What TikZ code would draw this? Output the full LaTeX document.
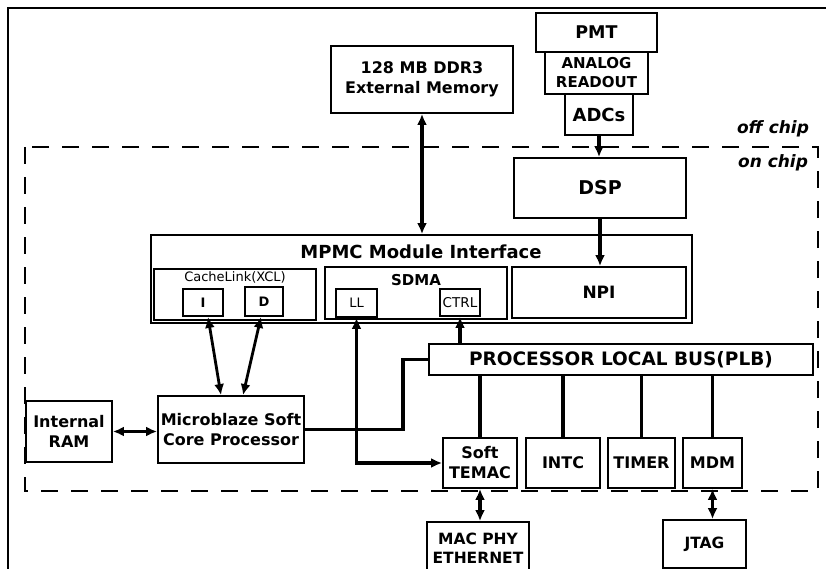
\documentclass[tikz,border=0pt]{standalone}
\usepackage{fontspec}
\setmainfont{DejaVu Sans}
\usepackage{tikz}
\usetikzlibrary{arrows.meta,calc}

\begin{document}
\begin{tikzpicture}[x=1pt, y=-1pt, every node/.style={font=\bfseries\fontsize{16}{20}\selectfont, align=center, inner sep=0pt}, box/.style={draw, line width=1.8pt, fill=white}, wide/.style={font=\bfseries\fontsize{#1}{#1}\selectfont}, thin/.style={font=\fontsize{#1}{#1}\selectfont}, bus/.style={line width=3.2pt}, arr/.style={-{Latex[length=11pt,width=10pt]}, line width=3.2pt}, dbl/.style={{Latex[length=11pt,width=10pt]}-{Latex[length=11pt,width=10pt]}, line width=3.2pt}, dbln/.style={{Latex[length=11pt,width=10pt]}-{Latex[length=11pt,width=10pt]}, line width=2.8pt}]
\useasboundingbox (0,0) rectangle (826,569);
\draw[line width=2pt] (8,569) -- (8,8) -- (826,8);
\draw[line width=1.5pt, dash pattern=on 17pt off 13pt] (25,147) rectangle (818,491);
\node[font=\bfseries\itshape\fontsize{17}{18}\selectfont] (offchip) at (773,129) {off chip};
\node[font=\bfseries\itshape\fontsize{17}{18}\selectfont] (onchip) at (773,163) {on chip};
\node[box, wide=17.5, minimum width=121, minimum height=39] (pmt) at (596.5,32.5) {PMT};
\node[box, font=\bfseries\fontsize{15}{19}\selectfont, minimum width=103, minimum height=42] (analog) at (596.5,73) {ANALOG\\READOUT};
\node[box, wide=18, minimum width=68, minimum height=41] (adc) at (599,114.5) {ADCs};
\node[box, minimum width=182, minimum height=67] (ddr) at (422,79.5) {128 MB DDR3\\External Memory};
\node[box, wide=19, minimum width=172, minimum height=60] (dsp) at (600,188) {DSP};
\node[box, minimum width=541, minimum height=88] (mpmc) at (421.5,279) {};
\node[wide=18] (mpmctitle) at (421,252) {MPMC Module Interface};
\node[box, minimum width=162, minimum height=51] (xcl) at (235,294.5) {};
\node[thin=13] (xcltitle) at (235,277) {CacheLink(XCL)};
\node[box, wide=13, minimum width=40, minimum height=27] (ibox) at (203,302.5) {I};
\node[box, wide=13, minimum width=38, minimum height=29] (dbox) at (264,301.5) {D};
\node[box, minimum width=182, minimum height=52] (sdma) at (416,293) {};
\node[wide=15] (sdmatitle) at (416,280) {SDMA};
\node[box, thin=13, minimum width=41, minimum height=28] (ll) at (356.5,303) {LL};
\node[box, thin=13.5, minimum width=40, minimum height=27] (ctrl) at (460,302.5) {CTRL};
\node[box, wide=17, minimum width=174, minimum height=51] (npi) at (599,292.5) {NPI};
\node[box, wide=18.5, minimum width=384, minimum height=31] (plb) at (621,359.5) {PROCESSOR LOCAL BUS(PLB)};
\node[box, minimum width=146, minimum height=67] (mb) at (231,429.5) {Microblaze Soft\\Core Processor};
\node[box, minimum width=86, minimum height=61] (ram) at (69,431.5) {Internal\\RAM};
\node[box, minimum width=74, minimum height=50] (temac) at (480,463) {Soft\\TEMAC};
\node[box, minimum width=74, minimum height=50] (intc) at (563,463) {INTC};
\node[box, minimum width=67, minimum height=50] (timer) at (641.5,463) {TIMER};
\node[box, minimum width=59, minimum height=50] (mdm) at (712.5,463) {MDM};
\node[box, font=\bfseries\fontsize{15.5}{19}\selectfont, minimum width=102, minimum height=52] (mac) at (478,548) {MAC PHY\\ETHERNET};
\node[box, wide=15.5, minimum width=83, minimum height=48] (jtag) at (704.5,544) {JTAG};
\coordinate (bend) at (403,359.5);
\draw[dbl] (ddr.south) -- (ddr.south |- mpmc.north); \draw[arr] (adc.south) -- (adc.south |- dsp.north); \draw[arr] (dsp.south) -- (dsp.south |- npi.north);
\draw[dbln] ([xshift=5pt]ibox.south) -- ([xshift=-10pt]mb.north); \draw[dbln] ([xshift=-3pt]dbox.south) -- ([xshift=12pt]mb.north);
\draw[dbl] (ll.south) |- (temac.west); \draw[arr] (plb.north -| ctrl.south) -- (ctrl.south);
\draw[bus] (mb.east) -| (bend) -- (plb.west); \draw[dbl] (ram.east) -- (ram.east -| mb.west);
\draw[bus] (plb.south -| temac.north) -- (temac.north); \draw[bus] (plb.south -| intc.north) -- (intc.north); \draw[bus] (plb.south -| timer.north) -- (timer.north); \draw[bus] (plb.south -| mdm.north) -- (mdm.north);
\draw[dbl] (temac.south) -- (temac.south |- mac.north); \draw[dbl] (mdm.south) -- (mdm.south |- jtag.north);
\end{tikzpicture}
\end{document}
